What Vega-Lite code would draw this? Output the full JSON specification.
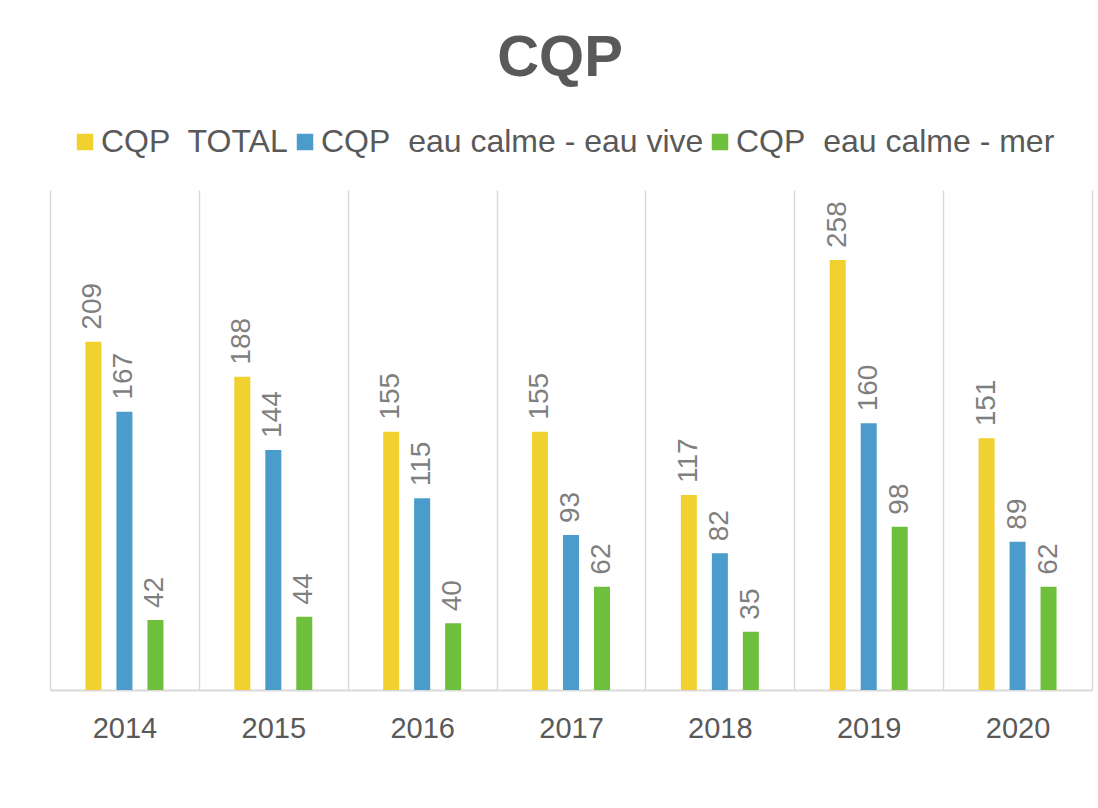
{
  "$schema": "https://vega.github.io/schema/vega-lite/v6.json",
  "width": 1042,
  "height": 500,
  "autosize": {"type": "none"},
  "padding": {"left": 50, "top": 190, "right": 6, "bottom": 118},
  "background": "white",
  "title": {
    "text": "CQP",
    "font": "Liberation Sans",
    "fontSize": 58,
    "fontWeight": "bold",
    "color": "#595959",
    "anchor": "middle",
    "frame": "group",
    "baseline": "alphabetic",
    "offset": -8,
    "dx": -11
  },
  "config": {
    "view": {"stroke": null},
    "font": "Liberation Sans"
  },
  "data": {
    "values": [
      {"year": "2014", "series": "CQP\u00a0 TOTAL", "value": 209},
      {"year": "2014", "series": "CQP\u00a0 eau calme - eau vive", "value": 167},
      {"year": "2014", "series": "CQP\u00a0 eau calme - mer", "value": 42},
      {"year": "2015", "series": "CQP\u00a0 TOTAL", "value": 188},
      {"year": "2015", "series": "CQP\u00a0 eau calme - eau vive", "value": 144},
      {"year": "2015", "series": "CQP\u00a0 eau calme - mer", "value": 44},
      {"year": "2016", "series": "CQP\u00a0 TOTAL", "value": 155},
      {"year": "2016", "series": "CQP\u00a0 eau calme - eau vive", "value": 115},
      {"year": "2016", "series": "CQP\u00a0 eau calme - mer", "value": 40},
      {"year": "2017", "series": "CQP\u00a0 TOTAL", "value": 155},
      {"year": "2017", "series": "CQP\u00a0 eau calme - eau vive", "value": 93},
      {"year": "2017", "series": "CQP\u00a0 eau calme - mer", "value": 62},
      {"year": "2018", "series": "CQP\u00a0 TOTAL", "value": 117},
      {"year": "2018", "series": "CQP\u00a0 eau calme - eau vive", "value": 82},
      {"year": "2018", "series": "CQP\u00a0 eau calme - mer", "value": 35},
      {"year": "2019", "series": "CQP\u00a0 TOTAL", "value": 258},
      {"year": "2019", "series": "CQP\u00a0 eau calme - eau vive", "value": 160},
      {"year": "2019", "series": "CQP\u00a0 eau calme - mer", "value": 98},
      {"year": "2020", "series": "CQP\u00a0 TOTAL", "value": 151},
      {"year": "2020", "series": "CQP\u00a0 eau calme - eau vive", "value": 89},
      {"year": "2020", "series": "CQP\u00a0 eau calme - mer", "value": 62}
    ]
  },
  "encoding": {
    "x": {
      "field": "year",
      "type": "nominal",
      "title": null,
      "scale": {"paddingInner": 0, "paddingOuter": 0},
      "axis": {
        "labelAngle": 0,
        "labelFontSize": 29,
        "labelColor": "#595959",
        "labelBaseline": "alphabetic",
        "labelPadding": 47,
        "ticks": false,
        "grid": true,
        "tickBand": "extent",
        "gridColor": "#d9d9d9",
        "gridWidth": 1.5,
        "domainColor": "#d9d9d9",
        "domainWidth": 2
      }
    },
    "xOffset": {
      "field": "series",
      "type": "nominal",
      "sort": ["CQP\u00a0 TOTAL", "CQP\u00a0 eau calme - eau vive", "CQP\u00a0 eau calme - mer"],
      "scale": {"paddingInner": 0.197, "paddingOuter": 1}
    },
    "y": {
      "field": "value",
      "type": "quantitative",
      "scale": {"domain": [0, 300]},
      "axis": null
    }
  },
  "layer": [
    {
      "mark": {"type": "bar", "width": 16},
      "encoding": {
        "color": {
          "field": "series",
          "type": "nominal",
          "sort": ["CQP\u00a0 TOTAL", "CQP\u00a0 eau calme - eau vive", "CQP\u00a0 eau calme - mer"],
          "scale": {
            "domain": ["CQP\u00a0 TOTAL", "CQP\u00a0 eau calme - eau vive", "CQP\u00a0 eau calme - mer"],
            "range": ["#F1D130", "#4B9BCB", "#6EBF3B"]
          },
          "legend": {
            "title": null,
            "orient": "none",
            "direction": "horizontal",
            "legendX": 19,
            "legendY": -64,
            "padding": 0,
            "symbolType": "square",
            "symbolSize": 272,
            "symbolStrokeWidth": 0,
            "labelFontSize": 32,
            "labelColor": "#595959",
            "labelOffset": 0,
            "columnPadding": 0,
            "labelLimit": 600
          }
        }
      }
    },
    {
      "mark": {
        "type": "text",
        "angle": 270,
        "align": "left",
        "baseline": "middle",
        "dx": 12,
        "fontSize": 28,
        "color": "#7f7f7f"
      },
      "encoding": {
        "text": {"field": "value", "type": "quantitative"}
      }
    }
  ]
}
